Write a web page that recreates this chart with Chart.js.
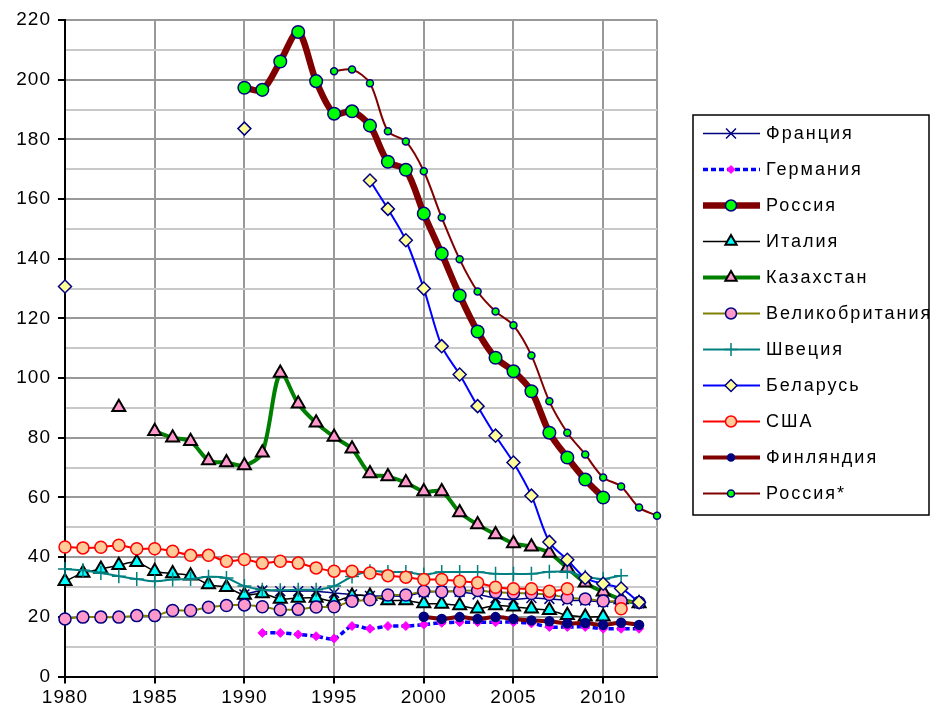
<!DOCTYPE html>
<html>
<head>
<meta charset="utf-8">
<script src="https://cdn.jsdelivr.net/npm/chart.js@4.4.1/dist/chart.umd.min.js"></script>
<style>
    html, body { margin: 0; padding: 0; background: #fff; }
    #wrap { width: 936px; height: 713px; position: relative; }
</style>
</head>
<body>
<div id="wrap"><canvas id="lineChart"></canvas></div>
<script>
// years on the x axis
const years = [1980, 1981, 1982, 1983, 1984, 1985, 1986, 1987, 1988, 1989,
               1990, 1991, 1992, 1993, 1994, 1995, 1996, 1997, 1998, 1999,
               2000, 2001, 2002, 2003, 2004, 2005, 2006, 2007, 2008, 2009,
               2010, 2011, 2012, 2013];
const xTicks = [1980, 1985, 1990, 1995, 2000, 2005, 2010, 2013];

// values per country, one entry per year (null = no data)
const france = [null, null, null, null, null, null, null, null, null, null,
    27.5, 28.8, 28.6, 28.6, 28.6, 28.0, 27.5, 27.0, 27.0, 27.0,
    28.2, 28.6, 28.4, 27.5, 26.3, 25.8, 26.3, 26.0, 25.5, 25.5,
    25.0, 25.0, 24.5, null];
const germany = [null, null, null, null, null, null, null, null, null, null,
    null, 14.6, 14.6, 14.1, 13.5, 12.7, 16.9, 16.0, 16.9, 16.9,
    17.4, 18.0, 18.2, 18.2, 18.2, 18.2, 17.8, 16.6, 16.6, 16.6,
    16.0, 16.0, 16.0, null];
const russia = [null, null, null, null, null, null, null, null, null, null,
    197.3, 196.6, 206.1, 216.0, 199.5, 188.6, 189.4, 184.6, 172.5, 169.8,
    155.1, 141.7, 127.7, 115.6, 106.8, 102.3, 95.6, 81.7, 73.4, 66.0,
    60.0, null, null, null];
const italy = [31.9, 34.7, 36.0, 37.3, 38.3, 35.3, 34.5, 33.8, 30.8, 29.9,
    27.3, 27.8, 26.0, 26.3, 26.3, 25.2, 27.0, 27.0, 25.5, 25.5,
    24.5, 24.3, 23.8, 22.7, 23.8, 23.4, 22.7, 22.2, 20.5, 20.0,
    20.0, null, null, null];
const kazakhstan = [null, null, null, 90.2, null, 82.2, 80.0, 78.8, 72.4, 71.7,
    70.7, 75.0, 101.7, 91.4, 85.0, 80.3, 76.3, 68.0, 67.0, 65.0,
    62.0, 62.0, 55.0, 50.9, 47.6, 44.6, 43.5, 41.4, 36.4, 31.4,
    28.4, 25.8, 24.5, null];
const uk = [19.3, 19.9, 19.9, 19.9, 20.4, 20.4, 22.1, 22.1, 23.2, 23.8,
    24.0, 23.4, 22.4, 22.5, 23.3, 23.4, 25.2, 25.7, 27.3, 27.3,
    28.6, 28.4, 28.7, 28.8, 28.2, 28.0, 27.8, 27.5, 26.4, 26.0,
    25.3, 25.2, 24.8, null];
const sweden = [36.0, 35.6, 34.7, 33.6, 32.7, 31.9, 32.5, 32.7, 33.4, 33.0,
    30.3, 29.1, 28.9, 29.1, 29.1, 30.3, 33.5, 35.3, 35.0, 35.0,
    34.2, 35.0, 35.0, 35.0, 34.4, 34.4, 34.4, 35.1, 35.1, 33.4,
    32.7, 33.8, null, null];
const belarus = [130.7, null, null, null, null, null, null, null, null, null,
    183.6, null, null, null, null, null, null, 166.2, 156.7, 146.2,
    130.0, 110.7, 101.2, 90.6, 80.7, 71.7, 60.6, 45.1, 39.1, 33.0,
    31.1, 29.5, 24.9, null];
const usa = [43.4, 43.1, 43.3, 44.0, 42.8, 42.8, 42.0, 40.6, 40.6, 38.6,
    39.2, 38.0, 38.6, 38.0, 36.4, 35.3, 35.3, 34.7, 33.8, 33.3,
    32.5, 32.5, 31.9, 31.4, 29.9, 29.4, 29.4, 28.6, 29.4, null,
    null, 22.7, null, null];
const finland = [null, null, null, null, null, null, null, null, null, null,
    null, null, null, null, null, null, null, null, null, null,
    20.0, 19.3, 19.9, 19.3, 19.9, 19.3, 18.8, 18.5, 17.8, 17.9,
    17.3, 18.0, 17.3, null];
const russiaStar = [null, null, null, null, null, null, null, null, null, null,
    null, null, null, null, null, 202.8, 203.4, 198.8, 182.7, 179.3,
    169.3, 153.8, 139.8, 129.0, 122.3, 117.7, 107.6, 92.2, 81.7, 74.4,
    66.7, 63.7, 56.6, 53.9];

const FONT = '"Liberation Sans", Arial, sans-serif';

function toPoints(values) {
    return years.map((yr, i) => ({ x: yr, y: values[i] }));
}

function series(label, values, style) {
    return Object.assign({
        label: label,
        data: toPoints(values),
        spanGaps: false,
        tension: 0.3,
        clip: false,
        fill: false,
        pointBorderWidth: 1.5,
        pointHoverRadius: 0
    }, style);
}

const datasets = [
    series('Франция', france, {
        borderColor: '#000080', borderWidth: 1.5,
        pointStyle: 'crossRot', pointRadius: 7, pointBorderColor: '#000080',
        pointBackgroundColor: '#000080', legendRadius: 7
    }),
    series('Германия', germany, {
        borderColor: '#0000ff', borderWidth: 3.5, borderDash: [5, 3],
        pointStyle: 'rectRot', pointRadius: 4.5, pointBorderColor: '#ff00ff',
        pointBackgroundColor: '#ff00ff', pointBorderWidth: 1, legendRadius: 4
    }),
    series('Россия', russia, {
        borderColor: '#800000', borderWidth: 6.5,
        pointStyle: 'circle', pointRadius: 6.3, pointBorderColor: '#000080',
        pointBackgroundColor: '#00ff00', legendRadius: 5.5
    }),
    series('Италия', italy, {
        borderColor: '#000000', borderWidth: 1.5,
        pointStyle: 'triangle', pointRadius: 7.5, pointBorderColor: '#000000',
        pointBackgroundColor: '#00ffff', pointBorderWidth: 2, legendRadius: 6.5
    }),
    series('Казахстан', kazakhstan, {
        borderColor: '#008000', borderWidth: 4,
        pointStyle: 'triangle', pointRadius: 7.5, pointBorderColor: '#000000',
        pointBackgroundColor: '#ff99cc', pointBorderWidth: 2, legendRadius: 6.5
    }),
    series('Великобритания', uk, {
        borderColor: '#808000', borderWidth: 2,
        pointStyle: 'circle', pointRadius: 6, pointBorderColor: '#000080',
        pointBackgroundColor: '#ff99cc', legendRadius: 5.5
    }),
    series('Швеция', sweden, {
        borderColor: '#008080', borderWidth: 2,
        pointStyle: 'cross', pointRadius: 7, pointBorderColor: '#008080',
        pointBackgroundColor: '#008080', legendRadius: 6.5
    }),
    series('Беларусь', belarus, {
        borderColor: '#0000ff', borderWidth: 2,
        pointStyle: 'rectRot', pointRadius: 6.5, pointBorderColor: '#000080',
        pointBackgroundColor: '#ffff99', legendRadius: 6
    }),
    series('США', usa, {
        borderColor: '#ff0000', borderWidth: 2,
        pointStyle: 'circle', pointRadius: 6, pointBorderColor: '#ff0000',
        pointBackgroundColor: '#ffcc99', legendRadius: 5.5
    }),
    series('Финляндия', finland, {
        borderColor: '#800000', borderWidth: 4,
        pointStyle: 'circle', pointRadius: 4.5, pointBorderColor: '#000080',
        pointBackgroundColor: '#000080', legendRadius: 3.5
    }),
    series('Россия*', russiaStar, {
        borderColor: '#800000', borderWidth: 2,
        pointStyle: 'circle', pointRadius: 3.5, pointBorderColor: '#000080',
        pointBackgroundColor: '#00ff00', legendRadius: 3.5
    })
];

// later series are painted on top, like the original
datasets.forEach((ds, i) => { ds.order = datasets.length - i; });

// the original text is slightly spaced out
const spacing = {
    id: 'spacing',
    beforeUpdate(chart) { chart.ctx.letterSpacing = '1px'; },
    beforeDraw(chart) { chart.ctx.letterSpacing = '1px'; }
};

// legend box drawn by hand on the right
const legendBox = {
    id: 'legendBox',
    afterDraw(chart) {
        const ctx = chart.ctx;
        ctx.save();
        ctx.strokeStyle = '#000';
        ctx.lineWidth = 1.5;
        ctx.strokeRect(693, 115, 236, 400);
        chart.data.datasets.forEach((ds, i) => {
            const y = 133.5 + i * 36;
            ctx.beginPath();
            ctx.setLineDash(ds.borderDash || []);
            ctx.lineWidth = ds.borderWidth;
            ctx.strokeStyle = ds.borderColor;
            ctx.moveTo(703, y);
            ctx.lineTo(760, y);
            ctx.stroke();
            ctx.setLineDash([]);
            ctx.fillStyle = ds.pointBackgroundColor;
            ctx.strokeStyle = ds.pointBorderColor;
            ctx.lineWidth = ds.pointBorderWidth;
            Chart.helpers.drawPoint(ctx, {
                pointStyle: ds.pointStyle,
                radius: ds.legendRadius,
                rotation: 0,
                borderWidth: ds.pointBorderWidth
            }, 731, y);
            ctx.fillStyle = '#000';
            ctx.font = '18px ' + FONT;
            ctx.letterSpacing = '2px';
            ctx.textBaseline = 'middle';
            ctx.textAlign = 'left';
            ctx.fillText(ds.label, 766, y + 1);
        });
        ctx.restore();
    }
};

let chartConfig = {
    type: 'line',
    data: { datasets: datasets },
    plugins: [spacing, legendBox],
    options: {
        responsive: true,
        maintainAspectRatio: false,
        animation: false,
        events: [],
        layout: { padding: { top: 20, right: 279, bottom: 0, left: 0 } },
        plugins: {
            legend: { display: false },
            tooltip: { enabled: false }
        },
        scales: {
            x: {
                type: 'linear',
                min: 1980,
                max: 2013,
                afterBuildTicks: (scale) => {
                    scale.ticks = xTicks.map(v => ({ value: v }));
                },
                afterFit: (scale) => { scale.height = 36.5; },
                grid: {
                    color: '#999999',
                    lineWidth: 2,
                    tickLength: 7,
                    tickWidth: 2,
                    tickColor: (c) => c.tick && c.tick.value === 2013 ? 'rgba(0,0,0,0)' : '#000'
                },
                border: { color: '#000', width: 2 },
                ticks: {
                    color: '#000',
                    padding: 3,
                    maxRotation: 0,
                    autoSkip: false,
                    font: { family: FONT, size: 19 },
                    callback: (v) => v === 2013 ? '' : String(v)
                }
            },
            y: {
                min: 0,
                max: 220,
                afterFit: (scale) => { scale.width = 65; },
                grid: {
                    color: (c) => c.tick && c.tick.value % 20 === 0 ? '#999999' : '#c8c8c8',
                    lineWidth: 2,
                    tickLength: 7,
                    tickWidth: 2,
                    tickColor: (c) => c.tick && c.tick.value % 20 === 0 ? '#000' : 'rgba(0,0,0,0)'
                },
                border: { color: '#000', width: 2 },
                ticks: {
                    stepSize: 10,
                    color: '#000',
                    padding: 7,
                    autoSkip: false,
                    font: { family: FONT, size: 19 },
                    callback: (v) => v % 20 === 0 ? String(v) : ''
                }
            }
        }
    }
};

window.onload = function() {
    const ctx = document.getElementById('lineChart').getContext('2d');
    window.myLine = new Chart(ctx, chartConfig);
};
</script>
</body>
</html>
